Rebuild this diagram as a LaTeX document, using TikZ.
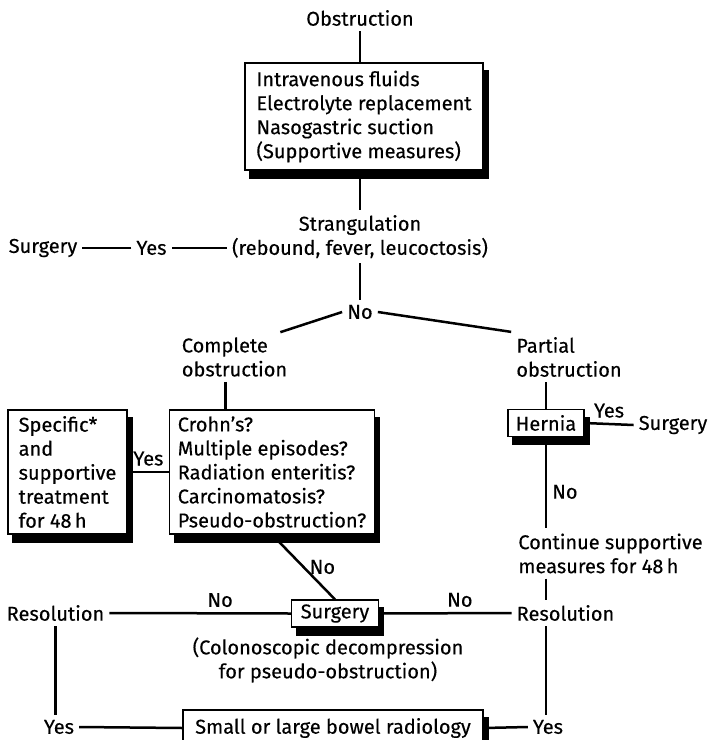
\documentclass[tikz,border=0pt]{standalone}
\usepackage{fontspec}
\setmainfont{Fira Sans}[FakeBold=0.3]
\usetikzlibrary{backgrounds}

\begin{document}
\begin{tikzpicture}[x=1pt, y=-1pt,
  every node/.style={font=\fontsize{20}{24}\selectfont, inner sep=5pt},
  box/.style={draw, line width=1.2pt, fill=white, align=left, inner xsep=9pt},
  link/.style={line width=2.5pt}]
  \useasboundingbox (0,0) rectangle (709,740);

  % Supportive measures and strangulation
  \node (obst) at (360,18) {Obstruction};
  \node[box, minimum width=238pt, minimum height=107pt] (supp) at (364,116.5)
    {Intravenous fluids\\Electrolyte replacement\\Nasogastric suction\\(Supportive measures)};
  \node (strang) at (360,225) {Strangulation};
  \node (sign) at (360,248) {(rebound, fever, leucoctosis)};
  \node (yes1) at (151.5,248) {Yes};
  \node (surg1) at (43,248) {Surgery};
  \node (no1) at (360,312) {No};

  % Complete and partial obstruction
  \node[align=left] (comp) at (234.5,357) {Complete\\obstruction};
  \node[align=left] (part) at (569,357) {Partial\\obstruction};
  \node[box, minimum width=119pt, minimum height=124pt] (spec) at (67.5,472)
    {Specific*\\and\\supportive\\treatment\\for 48\,h};
  \node[box, minimum width=204pt, minimum height=124pt, inner xsep=8pt] (crohn) at (272,472)
    {Crohn’s?\\Multiple episodes?\\Radiation enteritis?\\Carcinomatosis?\\Pseudo-obstruction?};
  \node[box, minimum width=76pt, minimum height=27pt, inner xsep=4pt, inner ysep=3pt] (hern) at (546,423) {Hernia};
  \node (surg2) at (673,425) {Surgery};
  \node[align=left] (cont) at (610.5,553.5) {Continue supportive\\measures for 48\,h};

  % Surgery and resolution
  \node[box, minimum width=87pt, minimum height=27pt, inner xsep=4pt, inner ysep=3pt] (surg3) at (335,613.5) {Surgery};
  \node (res1) at (55.5,613) {Resolution};
  \node (res2) at (565.5,613) {Resolution};
  \node[align=center] (colon) at (328,660) {(Colonoscopic decompression\\for pseudo-obstruction)};
  \node (yes3) at (59,727) {Yes};
  \node (yes4) at (548,727) {Yes};
  \node[box, minimum width=300pt, minimum height=36pt] (rad) at (333,728) {Small or large bowel radiology};

  % Shadows behind the boxes
  \begin{scope}[on background layer]
    \foreach \b in {supp,spec,crohn,hern,surg3,rad}
      \fill[black] ([shift={(5pt,-8pt)}]\b.south west) rectangle ([shift={(5pt,-8pt)}]\b.north east);
  \end{scope}

  % Connectors
  \draw[link] (obst.south) -- (obst.south |- supp.north);
  \draw[link] (strang.north |- supp.south) -- (strang.north);
  \draw[link] (sign.west) -- (yes1.east);
  \draw[link] (yes1.west) -- (surg1.east);
  \draw[link] (sign.south) -- (no1.north);
  \draw[link] (no1.west) -- ([xshift=-12pt]comp.north east);
  \draw[link] (no1.east) -- (part.north west);
  \draw[link] ([xshift=-9pt]comp.south) -- ([xshift=-9pt]comp.south |- crohn.north);
  \draw[link] (spec.east) -- node[above, name=yes5] {Yes} (crohn.west);
  \draw[link] (hern.north |- part.south) -- (hern.north);
  \draw[link] (hern.east) -- node[above, name=yes2] {Yes} (surg2.west);
  \draw[link] (hern.south) -- node[right, pos=0.6, name=no2] {No} (hern.south |- cont.north);
  \draw[link] (cont.south -| hern.south) -- (res2.north -| hern.south);
  \draw[link] (crohn.south) -- node[right, name=no3] {No} (surg3.north);
  \draw[link] (res1.east) -- node[above, pos=0.61, name=no4] {No} (surg3.west);
  \draw[link] (surg3.east) -- node[above, pos=0.61, name=no5] {No} (res2.west);
  \draw[link] (res1.south) -- (res1.south |- yes3.north);
  \draw[link] (res2.south -| hern.south) -- (yes4.north -| hern.south);
  \draw[link] (yes3.east) -- (rad.west);
  \draw[link] (rad.east) -- (yes4.west);
\end{tikzpicture}
\end{document}
